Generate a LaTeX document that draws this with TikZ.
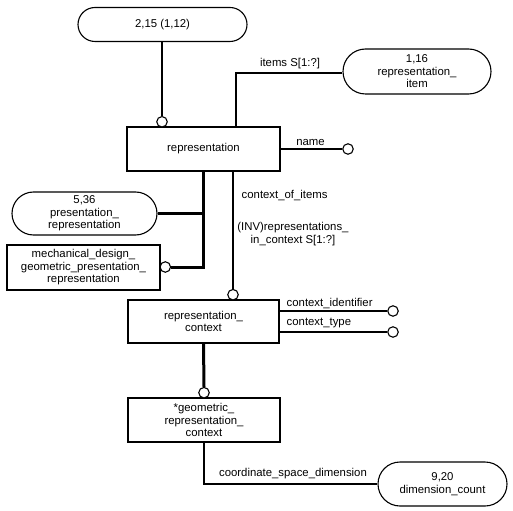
\documentclass[tikz,border=0pt]{standalone}
\usepackage{fontspec}
\setmainfont{Liberation Sans}
\usetikzlibrary{shapes.misc}
\begin{document}
\begin{tikzpicture}[x=1bp,y=-1bp,
  every node/.style={font=\fontsize{11.4}{12.6}\selectfont, inner sep=0pt},
  entbox/.style={draw, line width=1.1bp, align=center},
  pill/.style={draw, line width=1.1bp, rounded rectangle, align=center},
  endcirc/.style={draw, circle, fill=white, line width=1.1bp, minimum size=10.5bp},
  thinline/.style={line width=1.1bp},
  thickline/.style={line width=3bp},
  lbl/.style={fill=none}
]
\useasboundingbox (0,0) rectangle (513,511);
% entities
\node[pill, minimum width=169bp, minimum height=34bp] (top) at (162.5,24.5) {2,15 (1,12)};
\node[entbox, minimum width=153bp, minimum height=44bp] (rep) at (203.5,149) {representation};
\node[pill, minimum width=148bp, minimum height=45bp] (p116) at (417,71.5) {1,16\\representation\_\\item};
\node[pill, minimum width=145bp, minimum height=43bp] (p536) at (84.5,213.5) {5,36\\presentation\_\\representation};
\node[entbox, minimum width=153bp, minimum height=45bp] (mech) at (83.5,267.5) {mechanical\_design\_\\geometric\_presentation\_\\representation};
\node[entbox, minimum width=151bp, minimum height=43bp] (repctx) at (203.5,321.5) {representation\_\\context};
\node[entbox, minimum width=152bp, minimum height=44bp] (geo) at (204,420) {*geometric\_\\representation\_\\context};
\node[pill, minimum width=129bp, minimum height=44bp] (p920) at (442.5,484) {9,20\\dimension\_count};
% end circles
\node[endcirc] (c1) at (162,121.8) {};
\node[endcirc] (cname) at (348,149) {};
\node[endcirc] (cmech) at (165.3,267) {};
\node[endcirc] (cctx) at (233,294.7) {};
\node[endcirc] (cci) at (393,311) {};
\node[endcirc] (cct) at (393,332) {};
\node[endcirc] (cgeo) at (204,392.7) {};
\coordinate (ix) at (236,73);
% connectors
\draw[thinline] (top.south -| c1) -- (c1.north);
\draw[thinline] (p116.west |- ix) -- (ix) -- (rep.north -| ix);
\draw[thinline] (rep.east |- cname) -- (cname.west);
\draw[thickline] (p536.east) -| (rep.south);
\draw[thickline] (cmech.east) -| (rep.south);
\draw[thinline] (rep.south -| cctx) -- (cctx.north);
\draw[thinline] (repctx.east |- cci) -- (cci.west);
\draw[thinline] (repctx.east |- cct) -- (cct.west);
\draw[thickline] (repctx.south) -- (cgeo.north);
\draw[thinline] (geo.south) |- (p920.west);
% labels
\node[lbl] (litems) at (290,64) {items S[1:?]};
\node[lbl] (lname) at (310.5,143) {name};
\node[lbl, anchor=west] (lcoi) at (241.5,196) {context\_of\_items};
\node[lbl, align=center] (linv) at (293,234) {(INV)representations\_\\in\_context S[1:?]};
\node[lbl, anchor=west] (lci) at (286.5,304) {context\_identifier};
\node[lbl, anchor=west] (lct) at (286.5,323.5) {context\_type};
\node[lbl] (lcsd) at (293,474) {coordinate\_space\_dimension};
\end{tikzpicture}
\end{document}
